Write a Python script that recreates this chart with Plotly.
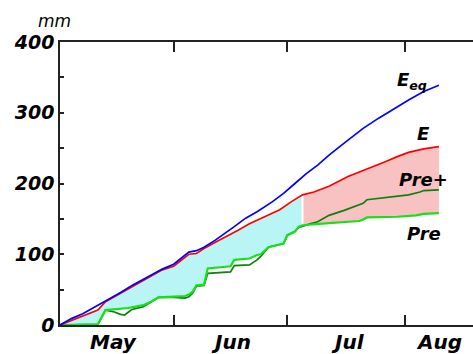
import plotly.graph_objects as go

YEAR = "2001"

# Cumulative equilibrium evaporation (mm)
eeq_dates = ["05-02", "05-05", "05-08", "05-11", "05-12", "05-15", "05-18", "05-21", "05-24",
             "05-27", "05-29", "06-01", "06-03", "06-05", "06-07", "06-09", "06-12", "06-15",
             "06-17", "06-20", "06-23", "06-27", "06-30", "07-03", "07-06", "07-09", "07-12",
             "07-16", "07-21", "07-25", "07-28", "08-02", "08-06", "08-10"]
eeq_vals = [0, 9, 16, 25, 28, 36, 46, 56, 65,
            74, 79, 86, 95, 103, 105, 110, 120, 131,
            139, 151, 160, 174, 186, 200, 214, 226, 240,
            257, 278, 292, 302, 318, 330, 339]

# Cumulative evaporation E (mm)
e_dates = ["05-02", "05-05", "05-08", "05-11", "05-12", "05-14", "05-15", "05-18", "05-21",
           "05-24", "05-27", "05-29", "06-01", "06-03", "06-05", "06-07", "06-09", "06-12",
           "06-15", "06-18", "06-21", "06-25", "06-29", "07-02", "07-05", "07-08", "07-12",
           "07-17", "07-22", "07-27", "07-30", "08-02", "08-06", "08-10"]
e_vals = [0, 6, 12, 18, 21, 33, 36, 45, 54,
          64, 73, 78, 83, 91, 100, 101, 108, 117,
          125, 134, 143, 153, 163, 174, 184, 188, 196,
          210, 220, 231, 238, 244, 249, 252]

# Cumulative precipitation Pre (mm)
pre_dates = ["05-02", "05-07", "05-11", "05-12", "05-14", "05-17", "05-20", "05-22", "05-24",
             "05-26", "05-28", "06-01", "06-04", "06-05", "06-06", "06-07", "06-09", "06-10",
             "06-15", "06-16", "06-17", "06-20", "06-21", "06-23", "06-24", "06-26", "06-29",
             "06-30", "07-01", "07-02", "07-03", "07-04", "07-05", "07-12", "07-20", "07-21",
             "07-22", "07-30", "08-04", "08-06", "08-10"]
pre_vals = [0, 0, 1, 1, 21, 22, 24, 26, 28,
            33, 39, 40, 41, 43, 47, 56, 57, 80,
            82, 83, 92, 93, 94, 99, 100, 110, 113,
            115, 127, 130, 132, 139, 141, 144, 147, 149,
            152, 153, 155, 157, 158]

# Precipitation plus storage change, Pre+ (mm)
prep_dates = ["05-02", "05-07", "05-11", "05-12", "05-14", "05-16", "05-18", "05-19", "05-20",
              "05-21", "05-24", "05-26", "05-28", "06-01", "06-04", "06-05", "06-06", "06-07",
              "06-09", "06-10", "06-15", "06-16", "06-17", "06-21", "06-23", "06-24", "06-26",
              "06-29", "06-30", "07-01", "07-02", "07-03", "07-04", "07-05", "07-07", "07-09",
              "07-12", "07-16", "07-19", "07-21", "07-22", "07-27", "08-02", "08-05", "08-06",
              "08-10"]
prep_vals = [0, 0, 1, 1, 21, 19, 15, 14, 18,
             22, 26, 32, 39, 39, 38, 40, 45, 55,
             56, 73, 74, 75, 84, 85, 92, 97, 110,
             113, 115, 127, 130, 132, 138, 140, 143, 146,
             155, 162, 168, 172, 177, 180, 184, 188, 190,
             191]

split_date = "07-05"
month_names = ["May", "Jun", "Jul", "Aug"]
month_label_dates = ["05-16", "06-16", "07-17", "08-10"]
month_starts = ["06-01", "07-01", "08-01"]


def d(md):
    return f"{YEAR}-{md}"


def part(dates, vals, before=True):
    keep = [(x, v) for x, v in zip(dates, vals) if (x <= split_date if before else x >= split_date)]
    return [d(x) for x, _ in keep], [v for _, v in keep]


FONT = "DejaVu Sans"
fig = go.Figure()

# Shaded deficit: cyan before the split, pink after
for before, color in [(True, "#baf5f5"), (False, "#f8c2c2")]:
    px_, pv = part(pre_dates, pre_vals, before)
    ex, ev = part(e_dates, e_vals, before)
    fig.add_trace(go.Scatter(x=px_, y=pv, mode="lines", line=dict(width=0),
                             hoverinfo="skip", showlegend=False))
    fig.add_trace(go.Scatter(x=ex, y=ev, mode="lines", line=dict(width=0),
                             fill="tonexty", fillcolor=color,
                             hoverinfo="skip", showlegend=False))

# thin white gap between the two shaded areas
pre_at_split = pre_vals[pre_dates.index(split_date)]
e_at_split = e_vals[e_dates.index(split_date)]
fig.add_trace(go.Scatter(x=[d(split_date), d(split_date)], y=[pre_at_split, e_at_split],
                         mode="lines", line=dict(color="white", width=2),
                         hoverinfo="skip", showlegend=False))

series = [
    (prep_dates, prep_vals, "#0f7f0f", 1.7),
    (pre_dates, pre_vals, "#18e018", 2.2),
    (e_dates, e_vals, "#ff0000", 1.7),
    (eeq_dates, eeq_vals, "#0000ff", 1.7),
]
for dates, vals, color, w in series:
    fig.add_trace(go.Scatter(x=[d(x) for x in dates], y=vals, mode="lines",
                             line=dict(color=color, width=w), showlegend=False))

lab_font = dict(family=FONT, size=18, color="black", weight="bold", style="italic")
month_font = dict(family=FONT, size=20, color="black", weight="bold", style="italic")
labels = [
    ("E<sub>eq</sub>", "08-03", 345),
    ("E", "08-06", 271),
    ("Pre+", "08-06", 205),
    ("Pre", "08-06", 129),
]
for text, x, y in labels:
    fig.add_annotation(x=d(x), y=y, text=text, showarrow=False, font=lab_font,
                       xanchor="center", yanchor="middle")

# month names sit between the month-boundary ticks, below the axis
for name, x in zip(month_names, month_label_dates):
    fig.add_annotation(x=d(x), yref="paper", y=-0.06, text=name, showarrow=False,
                       font=month_font, xanchor="center", yanchor="middle")

fig.add_annotation(xref="paper", x=-0.013, yref="paper", y=1.074, text="mm",
                   showarrow=False,
                   font=dict(family=FONT, size=17, color="black", style="italic"),
                   xanchor="center", yanchor="middle")

fig.update_layout(
    width=473, height=354,
    margin=dict(l=60, r=0, t=42, b=29),
    paper_bgcolor="white", plot_bgcolor="white",
    xaxis=dict(
        type="date", range=[d("05-02"), d("08-19")],
        tickvals=[d(m) for m in month_starts], showticklabels=False,
        ticks="inside", ticklen=10, tickwidth=1.5, tickcolor="#222",
        showline=True, linecolor="#222", linewidth=1.5, mirror="ticks",
        showgrid=False, zeroline=False,
    ),
    yaxis=dict(
        range=[0, 400], tickvals=[0, 100, 200, 300, 400],
        ticks="inside", ticklen=4, tickwidth=1.5, tickcolor="#222",
        minor=dict(dtick=50, ticks="inside", ticklen=4, tickwidth=1.5, tickcolor="#222"),
        showline=True, linecolor="#222", linewidth=1.5,
        showgrid=False, zeroline=False,
        tickfont=dict(family=FONT, size=19, color="black", weight="bold", style="italic"),
    ),
)

fig.write_html("out.html")
